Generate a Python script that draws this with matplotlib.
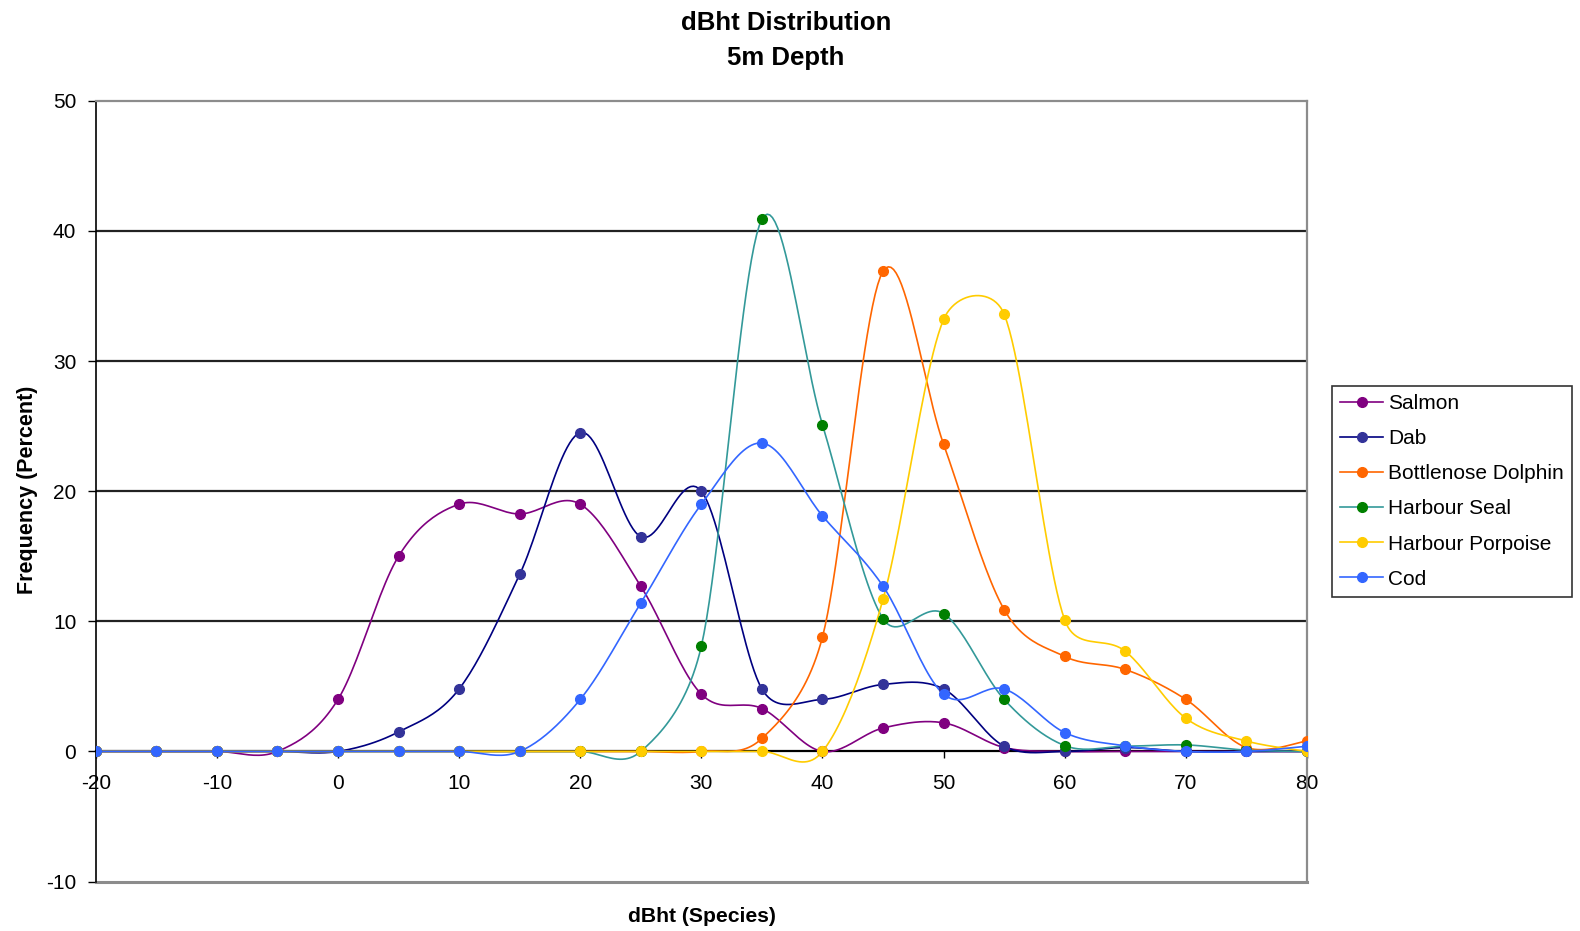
import numpy as np
import matplotlib
matplotlib.use("Agg")
import matplotlib.pyplot as plt
from matplotlib.lines import Line2D

plt.rcParams["font.family"] = ["Liberation Sans", "DejaVu Sans"]
plt.rcParams["axes.unicode_minus"] = False

# dBht bins
dbht = [-20, -15, -10, -5, 0, 5, 10, 15, 20, 25, 30, 35, 40, 45, 50, 55, 60, 65, 70, 75, 80]

# frequency (percent) per species
salmon = [0, 0, 0, 0, 4.0, 15.0, 19.0, 18.25, 19.0, 12.7, 4.4, 3.3, 0, 1.8, 2.2, 0.3, 0, 0, 0, 0, 0]
dab = [0, 0, 0, 0, 0, 1.5, 4.8, 13.6, 24.5, 16.5, 20.0, 4.8, 4.0, 5.15, 4.8, 0.4, 0, 0.3, 0, 0, 0]
dolphin = [0, 0, 0, 0, 0, 0, 0, 0, 0, 0, 0, 1.0, 8.8, 36.9, 23.6, 10.9, 7.3, 6.3, 4.0, 0.3, 0.8]
seal = [0, 0, 0, 0, 0, 0, 0, 0, 0, 0, 8.1, 40.9, 25.1, 10.2, 10.6, 4.0, 0.45, 0.4, 0.5, 0.1, 0]
porpoise = [0, 0, 0, 0, 0, 0, 0, 0, 0, 0, 0, 0, 0, 11.7, 33.2, 33.6, 10.1, 7.7, 2.55, 0.8, 0]
cod = [0, 0, 0, 0, 0, 0, 0, 0, 4.0, 11.4, 19.0, 23.7, 18.1, 12.7, 4.4, 4.8, 1.45, 0.43, 0, 0, 0.4]

series = [
    ("Salmon", salmon, "#800080", "#800080"),
    ("Dab", dab, "#000080", "#333399"),
    ("Bottlenose Dolphin", dolphin, "#FF6600", "#FF6600"),
    ("Harbour Seal", seal, "#339999", "#008000"),
    ("Harbour Porpoise", porpoise, "#FFCC00", "#FFCC00"),
    ("Cod", cod, "#3366FF", "#3366FF"),
]

y_ticks = [-10, 0, 10, 20, 30, 40, 50]
grid_levels = [10, 20, 30, 40]
x_ticks = [-20, -10, 0, 10, 20, 30, 40, 50, 60, 70, 80]

FIG_W, FIG_H, DPI = 15.8, 9.31, 100
AX_RECT = [0.0606, 0.0531, 0.7666, 0.8386]
X_LIM, Y_LIM = (-20, 80), (-10, 50)


def smooth_curve(xs, ys, sx, sy, n=24):
    """Spreadsheet-style smoothed line: cubic Bezier through every point,
    control handles parallel to the neighbour chord (1/6 of it), clamped to
    half of the segment length, all measured in screen pixels."""
    pts = np.column_stack([np.asarray(xs, float) * sx, np.asarray(ys, float) * sy])
    P = np.vstack([pts[0], pts, pts[-1]])
    t = np.linspace(0, 1, n)[:, None]
    segs = []
    for i in range(1, len(P) - 2):
        p0, p1, p2, p3 = P[i - 1], P[i], P[i + 1], P[i + 2]
        half = np.linalg.norm(p2 - p1) / 2.0
        v1 = (p2 - p0) / 6.0
        v2 = (p3 - p1) / 6.0
        n1, n2 = np.linalg.norm(v1), np.linalg.norm(v2)
        if n1 > half and n1 > 0:
            v1 = v1 * half / n1
        if n2 > half and n2 > 0:
            v2 = v2 * half / n2
        c1 = p1 + v1
        c2 = p2 - v2
        seg = ((1 - t) ** 3) * p1 + 3 * ((1 - t) ** 2) * t * c1 + 3 * (1 - t) * t ** 2 * c2 + t ** 3 * p2
        segs.append(seg)
    curve = np.vstack(segs)
    return curve[:, 0] / sx, curve[:, 1] / sy


fig = plt.figure(figsize=(FIG_W, FIG_H), dpi=DPI)
ax = fig.add_axes(AX_RECT)
ax.set_xlim(*X_LIM)
ax.set_ylim(*Y_LIM)

# pixels per data unit on each axis
px_x = AX_RECT[2] * FIG_W * DPI / (X_LIM[1] - X_LIM[0])
px_y = AX_RECT[3] * FIG_H * DPI / (Y_LIM[1] - Y_LIM[0])

for lvl in grid_levels:
    ax.axhline(lvl, color="#222222", lw=1.6, zorder=1)

handles = []
for name, vals, lc, mc in series:
    cx, cy = smooth_curve(dbht, vals, px_x, px_y)
    ax.plot(cx, cy, color=lc, lw=1.2, zorder=3, solid_capstyle="round")
    ax.plot(dbht, vals, ls="none", marker="o", ms=7, color=mc, mec=mc, zorder=4)
    handles.append(Line2D([], [], color=lc, lw=1.2, marker="o", ms=7, mfc=mc, mec=mc))

# frame
ax.spines["bottom"].set_position(("data", 0))
ax.spines["bottom"].set_color("black")
ax.spines["bottom"].set_linewidth(1.6)
ax.spines["bottom"].set_zorder(2)
ax.spines["left"].set_color("black")
ax.spines["left"].set_linewidth(1.2)
for side in ("top", "right"):
    ax.spines[side].set_color("#8c8c8c")
    ax.spines[side].set_linewidth(1.6)
ax.axhline(-10, color="#8c8c8c", lw=2.2, clip_on=False, zorder=2)

ax.set_xticks(x_ticks)
ax.set_yticks(y_ticks)
ax.tick_params(axis="x", direction="out", length=5, width=1, pad=11, labelsize=15, colors="black")
ax.tick_params(axis="y", direction="out", length=6, width=1, pad=8, labelsize=15, colors="black")

fig.text(0.4975, 1 - 22.5 / 931, "dBht Distribution", ha="center", va="center",
         fontsize=18.5, fontweight="bold")
fig.text(0.4975, 1 - 57.5 / 931, "5m Depth", ha="center", va="center",
         fontsize=18.5, fontweight="bold")
fig.text(0.0175, 1 - 490 / 931, "Frequency (Percent)", rotation=90, ha="center", va="center",
         fontsize=15.5, fontweight="bold")
fig.text(0.4445, 1 - 917 / 931, "dBht (Species)", ha="center", va="center",
         fontsize=15.2, fontweight="bold")

leg = fig.legend(handles, [s[0] for s in series], loc="upper left",
                 bbox_to_anchor=(1332 / 1580, 1 - 386 / 931), borderaxespad=0,
                 fontsize=15, frameon=True, fancybox=False, shadow=False,
                 handlelength=2.05, handletextpad=0.25, labelspacing=0.77,
                 borderpad=0.4, numpoints=1)
leg.get_frame().set_edgecolor("black")
leg.get_frame().set_linewidth(1.2)

fig.savefig("out.png", dpi=DPI, facecolor="white")
